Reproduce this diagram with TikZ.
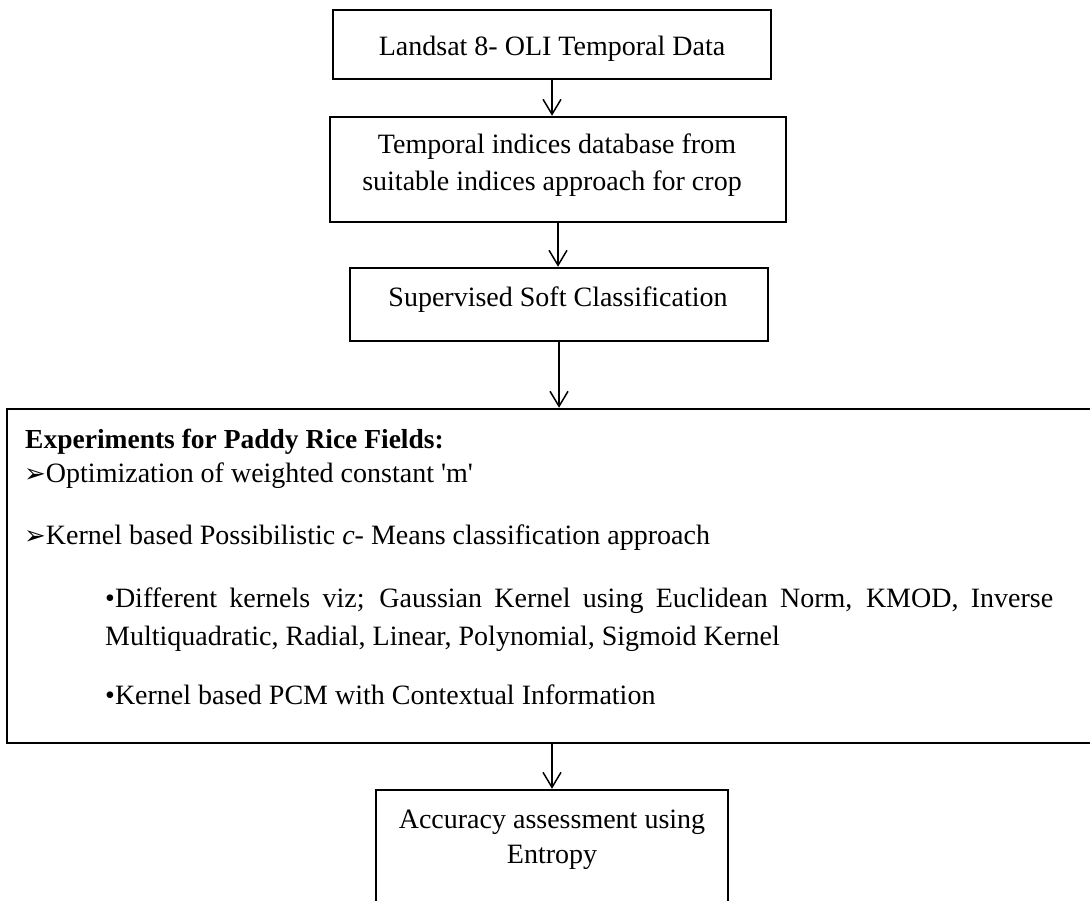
\documentclass[tikz,border=0pt]{standalone}
\usepackage{fontspec}
\setmainfont{Liberation Serif}
\newfontfamily\dejavu{DejaVu Sans}
\usetikzlibrary{arrows.meta}
\newcommand\straightq{\XeTeXglyph\XeTeXcharglyph"27\relax}
\newcommand\arrowbullet{{\dejavu\fontsize{26}{30}\selectfont ➢}}
\begin{document}
\begin{tikzpicture}[x=1pt,y=-1pt,
  box/.style={draw=black, line width=2.5pt, rectangle, inner sep=0pt},
  txt/.style={inner sep=0pt, font=\fontsize{28}{34}\selectfont},
  ttl/.style={inner sep=0pt, font=\bfseries\fontsize{27.5}{32}\selectfont},
  arr/.style={draw=black, line width=1.5pt, -{Straight Barb[length=15pt,width=18pt]}}]
\useasboundingbox (0,0) rectangle (1090,900);
\fill[white] (0,0) rectangle (1090,900);
\clip (0,0) rectangle (1090,900);

% box 1
\node[box, minimum width=438pt, minimum height=69pt] (n1) at (552,44.5) {};
\node[txt, anchor=base] (t1) at (552,55) {Landsat 8- OLI Temporal Data};

% box 2
\node[box, minimum width=456pt, minimum height=105pt] (n2) at (558,169.5) {};
\node[txt, anchor=base] (t2a) at (557,153) {Temporal indices database from};
\node[txt, anchor=base] (t2b) at (552,190) {suitable indices approach for crop};

% box 3
\node[box, minimum width=418pt, minimum height=73pt] (n3) at (559,304.5) {};
\node[txt, anchor=base] (t3) at (558,306) {Supervised Soft Classification};

% big box
\node[box, minimum width=1093pt, minimum height=334pt] (n4) at (553.5,576) {};
\node[ttl, anchor=base west] (t4) at (25,448) {Experiments for Paddy Rice Fields:};
\node[txt, anchor=base west] (t5) at (24,482) {\arrowbullet Optimization of weighted constant \straightq m\straightq};
\node[txt, anchor=base west] (t6) at (24,544) {\arrowbullet Kernel based Possibilistic \textit{c}- Means classification approach};
\node[txt, anchor=base west] (t7) at (105,607) {\makebox[948pt][s]{•Different kernels viz; Gaussian Kernel using Euclidean Norm, KMOD, Inverse}};
\node[txt, anchor=base west] (t8) at (105,645) {Multiquadratic, Radial, Linear, Polynomial, Sigmoid Kernel};
\node[txt, anchor=base west] (t9) at (105,704) {•Kernel based PCM with Contextual Information};

% bottom box
\node[box, minimum width=352pt, minimum height=130pt] (n5) at (552,855) {};
\node[txt, anchor=base] (t10) at (552,828) {Accuracy assessment using};
\node[txt, anchor=base] (t11) at (552,863) {Entropy};

% connectors
\draw[arr] (n1.south) -- (n1.south |- n2.north);
\draw[arr] (n2.south) -- (n2.south |- n3.north);
\draw[arr] (n3.south) -- (n3.south |- n4.north);
\draw[arr] (n5.north |- n4.south) -- (n5.north);
\end{tikzpicture}
\end{document}
